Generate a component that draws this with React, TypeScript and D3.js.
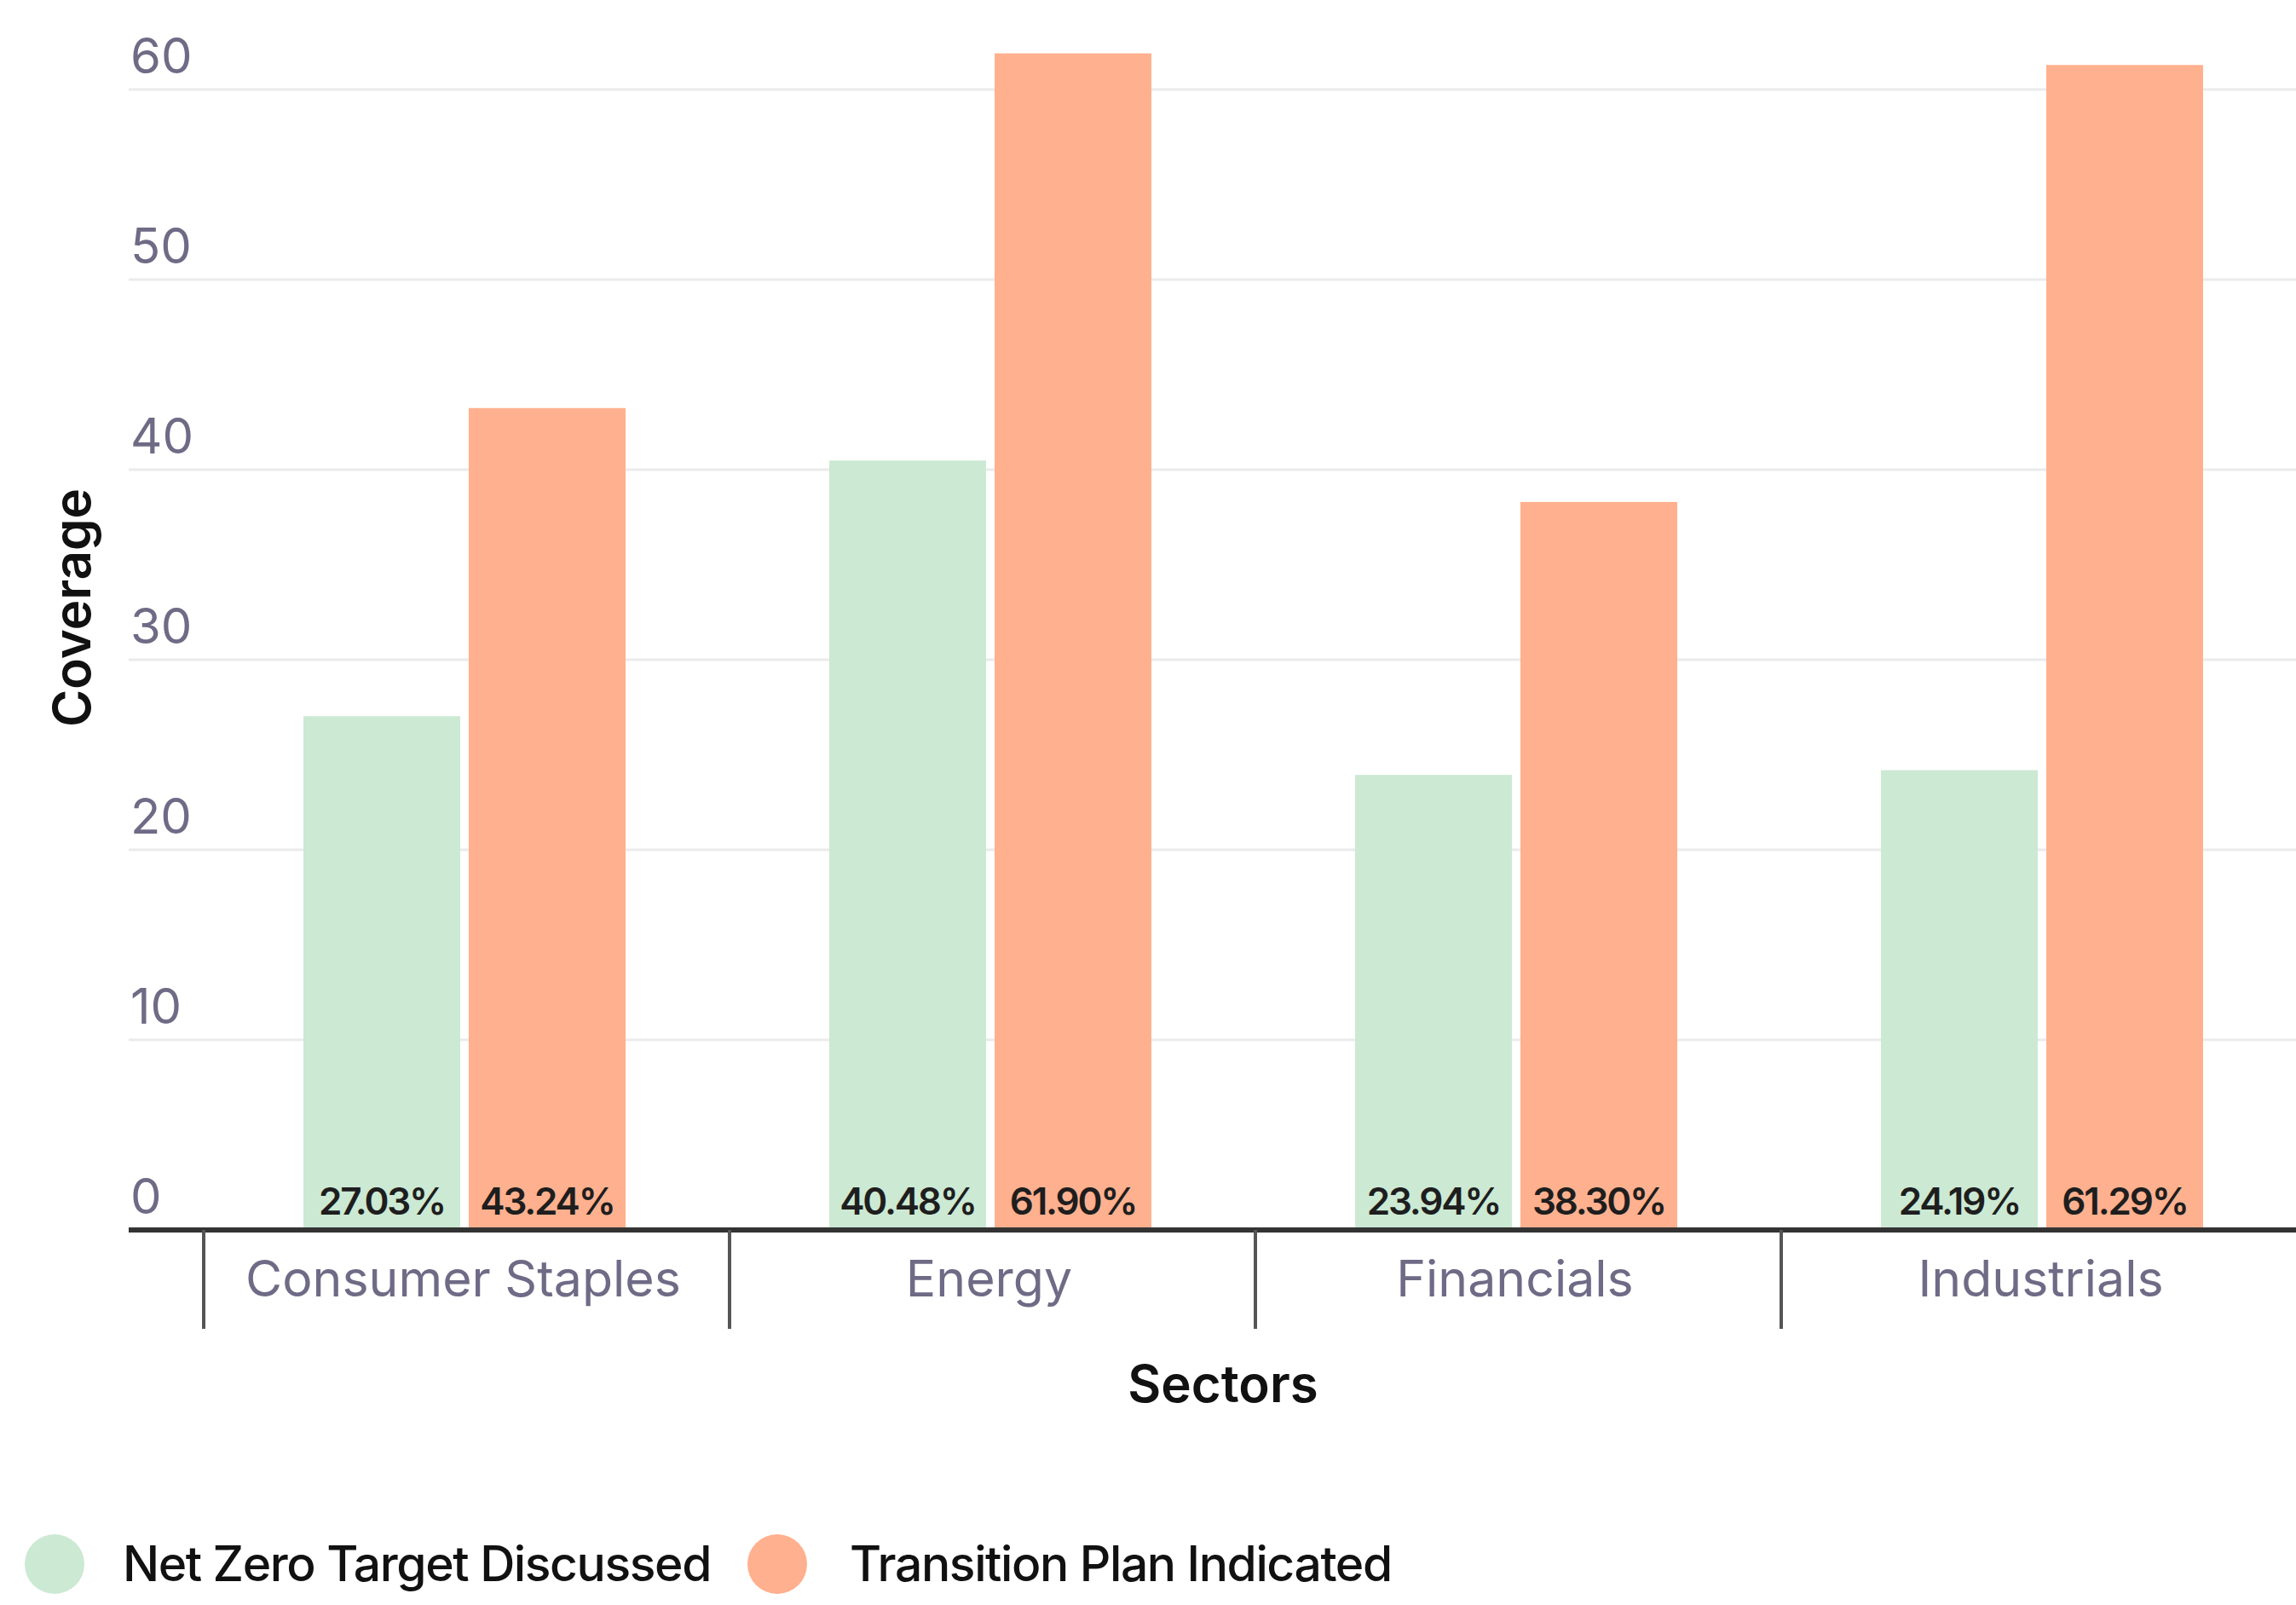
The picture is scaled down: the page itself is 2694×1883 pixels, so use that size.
import React from "react";
import * as d3 from "d3";

const categories = ["Consumer Staples", "Energy", "Financials", "Industrials"];
const seriesNames = ["Net Zero Target Discussed", "Transition Plan Indicated"];
const netZeroValues = [27.03, 40.48, 23.94, 24.19];
const transitionValues = [43.24, 61.9, 38.3, 61.29];
const yTicks = [0, 10, 20, 30, 40, 50, 60];
const seriesColors = ["#cce9d3", "#ffb08e"];

const W = 2694;
const H = 1883;
const plotLeft = 151;
const bandStart = 239;
const bandWidth = 617;
const y0 = 1443;

export default function App() {
  const x0 = d3
    .scaleBand<string>()
    .domain(categories)
    .range([bandStart, bandStart + bandWidth * categories.length])
    .padding(0);
  const x1 = d3
    .scaleBand<string>()
    .domain(seriesNames)
    .range([117, 495])
    .paddingInner(0.0515)
    .paddingOuter(0);
  const y = d3.scaleLinear().domain([0, 60]).range([y0, y0 - 60 * 22.3]);

  const seriesValues = [netZeroValues, transitionValues];
  const font = "Inter, 'Noto Sans', sans-serif";

  return (
    <div style={{ position: "absolute", left: 0, top: 0, background: "#fff" }}>
      <svg width={W} height={H} style={{ display: "block" }}>
        <rect x={0} y={0} width={W} height={H} fill="#fff" />
        {/* gridlines */}
        {yTicks.filter((t) => t !== 0).map((t) => (
          <line key={"g" + t} x1={plotLeft} x2={W} y1={y(t)} y2={y(t)} stroke="#ebebeb" strokeWidth={3} />
        ))}
        {/* y tick labels */}
        {yTicks.map((t) => (
          <text key={"t" + t} x={153} y={y(t) - 19} fill="#6f6b86" fontFamily={font} fontSize={58} fontWeight={400}>
            {t}
          </text>
        ))}
        {/* bars */}
        {categories.map((c, ci) => (
          <g key={c} transform={`translate(${x0(c)},0)`}>
            {seriesNames.map((s, si) => {
              const v = seriesValues[si][ci];
              const bx = x1(s)!;
              const bw = x1.bandwidth();
              return (
                <g key={s}>
                  <rect x={bx} y={y(v)} width={bw} height={y0 - y(v)} fill={seriesColors[si]} />
                  <text
                    x={bx + bw / 2}
                    y={y0 - 18}
                    textAnchor="middle"
                    fill="#1e1e1e"
                    fontFamily={font}
                    fontSize={44}
                    fontWeight={600}
                    letterSpacing={-2.2}
                  >
                    {v.toFixed(2) + "%"}
                  </text>
                </g>
              );
            })}
          </g>
        ))}
        {/* x axis line */}
        <line x1={plotLeft} x2={W} y1={y0} y2={y0} stroke="#333333" strokeWidth={6} />
        {/* category separator ticks */}
        {categories.map((c) => (
          <line key={"tk" + c} x1={x0(c)!} x2={x0(c)!} y1={y0} y2={1559} stroke="#555555" strokeWidth={4} />
        ))}
        {/* category labels */}
        {categories.map((c) => (
          <text
            key={"cl" + c}
            x={x0(c)! + x0.bandwidth() / 2 - 4}
            y={1521}
            textAnchor="middle"
            fill="#6f6b86"
            fontFamily={font}
            fontSize={59}
          >
            {c}
          </text>
        ))}
        {/* axis titles */}
        <text x={1435} y={1645} textAnchor="middle" fill="#111" fontFamily={font} fontSize={60} fontWeight={600}>
          Sectors
        </text>
        <text
          transform={`translate(106,713) rotate(-90)`}
          textAnchor="middle"
          fill="#111"
          fontFamily={font}
          fontSize={60}
          fontWeight={600}
        >
          Coverage
        </text>
        {/* legend */}
        {seriesNames.map((s, i) => {
          const cx = [64, 912][i];
          const tx = [144, 997][i];
          return (
            <g key={"lg" + s}>
              <circle cx={cx} cy={1835} r={35} fill={seriesColors[i]} />
              <text x={tx} y={1855} fill="#111" fontFamily={font} fontSize={57} fontWeight={500} letterSpacing={-1.4}>
                {s}
              </text>
            </g>
          );
        })}
      </svg>
    </div>
  );
}
